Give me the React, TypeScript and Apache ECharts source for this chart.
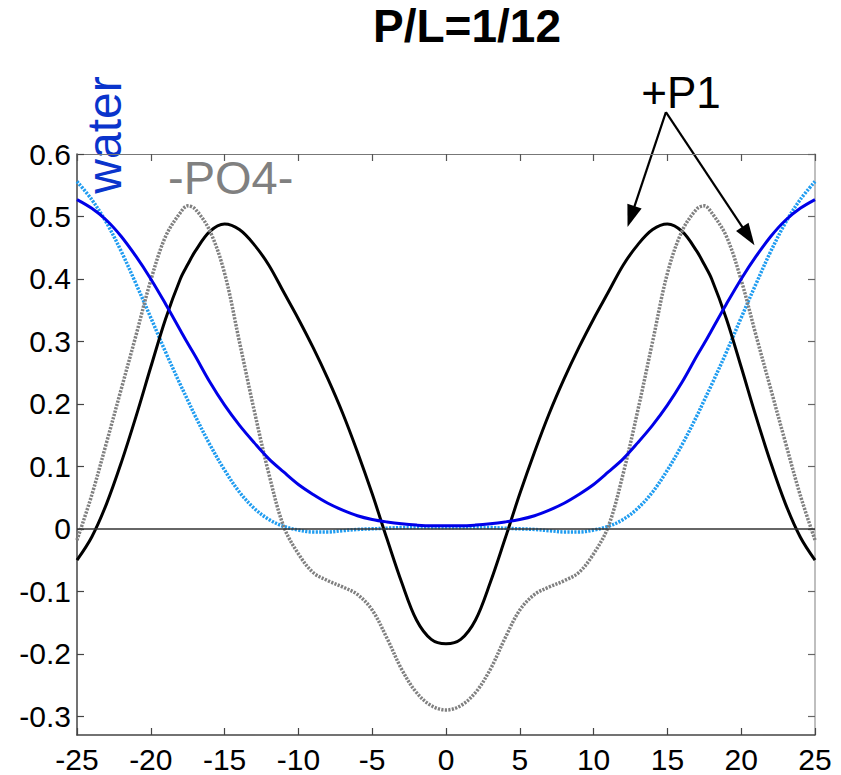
import React, { useEffect, useRef } from "react";
import * as echarts from "echarts";

const X_VALUES = [
  -25, -24, -23, -22, -21, -20, -19, -18, -17.5, -17, -16, -15, -14, -13, -12, -11, -10, -9, -8, -7, -6, -5, -4, -3,
  -2, -1, 0, 1, 2, 3, 4, 5, 6, 7, 8, 9, 10, 11, 12, 13, 14, 15, 16, 17, 17.5, 18, 19, 20, 21, 22, 23, 24, 25,
];

// +P1 (black solid)
const P1 = [
  -0.05, -0.013, 0.04, 0.106, 0.18, 0.259, 0.336, 0.4, 0.423, 0.444, 0.476, 0.488, 0.479, 0.455, 0.422, 0.379, 0.336,
  0.29, 0.24, 0.185, 0.123, 0.056, -0.016, -0.086, -0.146, -0.177, -0.184, -0.177, -0.146, -0.086, -0.016, 0.056,
  0.123, 0.185, 0.24, 0.29, 0.336, 0.379, 0.422, 0.455, 0.479, 0.488, 0.476, 0.444, 0.423, 0.4, 0.336, 0.259, 0.18,
  0.106, 0.04, -0.013, -0.05,
];

// -PO4- (gray dotted)
const PO4 = [
  -0.018, 0.054, 0.138, 0.224, 0.31, 0.398, 0.468, 0.506, 0.517, 0.512, 0.477, 0.409, 0.3, 0.19, 0.088, 0.004,
  -0.04, -0.07, -0.083, -0.093, -0.105, -0.13, -0.175, -0.225, -0.262, -0.283, -0.29, -0.283, -0.262, -0.225,
  -0.175, -0.13, -0.105, -0.093, -0.083, -0.07, -0.04, 0.004, 0.088, 0.19, 0.3, 0.409, 0.477, 0.512, 0.517, 0.506,
  0.468, 0.398, 0.31, 0.224, 0.138, 0.054, -0.018,
];

// water (blue solid)
const WATER = [
  0.527, 0.513, 0.494, 0.468, 0.436, 0.4, 0.36, 0.318, 0.297, 0.277, 0.235, 0.198, 0.166, 0.138, 0.112, 0.091, 0.071,
  0.055, 0.041, 0.03, 0.021, 0.015, 0.011, 0.008, 0.006, 0.005, 0.005, 0.005, 0.006, 0.008, 0.011, 0.015, 0.021,
  0.03, 0.041, 0.055, 0.071, 0.091, 0.112, 0.138, 0.166, 0.198, 0.235, 0.277, 0.297, 0.318, 0.36, 0.4, 0.436, 0.468,
  0.494, 0.513, 0.527,
];

// water, second profile (light blue dotted)
const WATER_DOTTED = [
  0.556, 0.527, 0.49, 0.444, 0.392, 0.338, 0.283, 0.231, 0.206, 0.181, 0.135, 0.094, 0.059, 0.033, 0.015, 0.004,
  -0.002, -0.005, -0.005, -0.003, -0.001, 0.0, 0.001, 0.002, 0.002, 0.002, 0.002, 0.002, 0.002, 0.002, 0.001, 0.0,
  -0.001, -0.003, -0.005, -0.005, -0.002, 0.004, 0.015, 0.033, 0.059, 0.094, 0.135, 0.181, 0.206, 0.231, 0.283,
  0.338, 0.392, 0.444, 0.49, 0.527, 0.556,
];

const Y_TICKS = [-0.3, -0.2, -0.1, 0, 0.1, 0.2, 0.3, 0.4, 0.5, 0.6];
const X_MIN = -25;
const X_MAX = 25;
const X_STEP = 5;
const Y_MIN = -0.33;
const Y_MAX = 0.6;

// annotation arrows, in data coordinates
const ARROW_FROM: [number, number] = [14.9, 0.667];
const ARROW_TO: [number, number][] = [
  [12.3, 0.483],
  [20.9, 0.454],
];

const FONT = "Arial, 'Liberation Sans', Helvetica, sans-serif";

function pairs(ys: number[]) {
  return X_VALUES.map((x, i) => [x, ys[i]]);
}

export default function App() {
  const ref = useRef<HTMLDivElement>(null);

  useEffect(() => {
    document.body.style.margin = "0";
    if (!ref.current) return;
    const chart = echarts.init(ref.current, undefined, { renderer: "svg" });

    const fmt = (v: number) => String(Math.round(v * 10) / 10);

    const option: any = {
      animation: false,
      backgroundColor: "#ffffff",
      grid: { left: 77, right: 26, top: 154, bottom: 40 },
      xAxis: [
        {
          type: "value",
          min: X_MIN,
          max: X_MAX,
          interval: X_STEP,
          position: "bottom",
          axisLine: { show: true, onZero: false, lineStyle: { color: "#444", width: 1.5 } },
          axisTick: { show: true, inside: true, length: 7, lineStyle: { color: "#444", width: 1.2 } },
          axisLabel: { show: true, color: "#000", fontSize: 30, fontFamily: FONT, margin: 9, formatter: (v: number) => String(v) },
          splitLine: { show: false },
        },
        {
          type: "value",
          min: X_MIN,
          max: X_MAX,
          interval: X_STEP,
          position: "top",
          axisLine: { show: true, onZero: false, lineStyle: { color: "#777", width: 1.2 } },
          axisTick: { show: true, inside: true, length: 7, lineStyle: { color: "#555", width: 1.2 } },
          axisLabel: { show: false },
          splitLine: { show: false },
        },
      ],
      yAxis: [
        {
          type: "value",
          min: Y_MIN,
          max: Y_MAX,
          position: "left",
          axisLine: { show: true, onZero: false, lineStyle: { color: "#444", width: 1.5 } },
          axisTick: { show: true, inside: true, length: 7, customValues: Y_TICKS, lineStyle: { color: "#444", width: 1.2 } },
          axisLabel: { show: true, color: "#000", fontSize: 30, fontFamily: FONT, margin: 6, customValues: Y_TICKS, formatter: fmt },
          splitLine: { show: false },
        },
        {
          type: "value",
          min: Y_MIN,
          max: Y_MAX,
          position: "right",
          axisLine: { show: true, onZero: false, lineStyle: { color: "#aaa", width: 1.5 } },
          axisTick: { show: true, inside: true, length: 7, customValues: Y_TICKS, lineStyle: { color: "#666", width: 1.2 } },
          axisLabel: { show: false },
          splitLine: { show: false },
        },
      ],
      series: [
        {
          name: "water dotted",
          type: "line",
          data: pairs(WATER_DOTTED),
          smooth: 0.35,
          symbol: "none",
          lineStyle: { color: "#1f9cf0", width: 3.5, type: [2.2, 1.3] },
          markLine: {
            silent: true,
            symbol: "none",
            label: { show: false },
            lineStyle: { color: "#333", width: 1.5, type: "solid" },
            data: [{ yAxis: 0 }],
          },
          z: 2,
        },
        {
          name: "P1",
          type: "line",
          data: pairs(P1),
          smooth: 0.35,
          symbol: "none",
          lineStyle: { color: "#000", width: 3 },
          z: 3,
        },
        {
          name: "PO4",
          type: "line",
          data: pairs(PO4),
          smooth: 0.35,
          symbol: "none",
          lineStyle: { color: "#808080", width: 3.5, type: [2.2, 1.3] },
          z: 4,
        },
        {
          name: "water",
          type: "line",
          data: pairs(WATER),
          smooth: 0.35,
          symbol: "none",
          lineStyle: { color: "#0000e8", width: 3 },
          z: 5,
        },
      ],
    };

    chart.setOption(option);

    const toPx = (p: [number, number]) => chart.convertToPixel({ gridIndex: 0 }, p) as number[];
    const from = toPx(ARROW_FROM);
    const arrowEls: any[] = [];
    ARROW_TO.forEach((t) => {
      const to = toPx(t);
      const dx = to[0] - from[0];
      const dy = to[1] - from[1];
      const len = Math.sqrt(dx * dx + dy * dy);
      const ux = dx / len;
      const uy = dy / len;
      const headL = 22;
      const headW = 7.5;
      const bx = to[0] - ux * headL;
      const by = to[1] - uy * headL;
      arrowEls.push({
        type: "line",
        shape: { x1: from[0], y1: from[1], x2: bx + ux * 2, y2: by + uy * 2 },
        style: { stroke: "#000", lineWidth: 2.2 },
        silent: true,
      });
      arrowEls.push({
        type: "polygon",
        shape: {
          points: [
            [to[0], to[1]],
            [bx - uy * headW, by + ux * headW],
            [bx + uy * headW, by - ux * headW],
          ],
        },
        style: { fill: "#000" },
        silent: true,
      });
    });

    chart.setOption({
      graphic: [
        {
          type: "text",
          x: 467,
          y: 26,
          style: {
            text: "P/L=1/12",
            fontSize: 46,
            fontWeight: "bold",
            fontFamily: FONT,
            fill: "#000",
            align: "center",
            verticalAlign: "middle",
          },
          silent: true,
        },
        {
          type: "text",
          x: 104,
          y: 135,
          rotation: Math.PI / 2,
          style: {
            text: "water",
            fontSize: 48,
            fontFamily: FONT,
            fill: "#0a34cc",
            align: "center",
            verticalAlign: "middle",
          },
          silent: true,
        },
        {
          type: "text",
          x: 168,
          y: 177,
          style: {
            text: "-PO4-",
            fontSize: 47,
            fontFamily: FONT,
            fill: "#808080",
            align: "left",
            verticalAlign: "middle",
          },
          silent: true,
        },
        {
          type: "text",
          x: 681,
          y: 92,
          style: {
            text: "+P1",
            fontSize: 44,
            fontFamily: FONT,
            fill: "#000",
            align: "center",
            verticalAlign: "middle",
          },
          silent: true,
        },
        ...arrowEls,
      ],
    });

    return () => {
      chart.dispose();
    };
  }, []);

  return <div ref={ref} style={{ width: 841, height: 775 }} />;
}
